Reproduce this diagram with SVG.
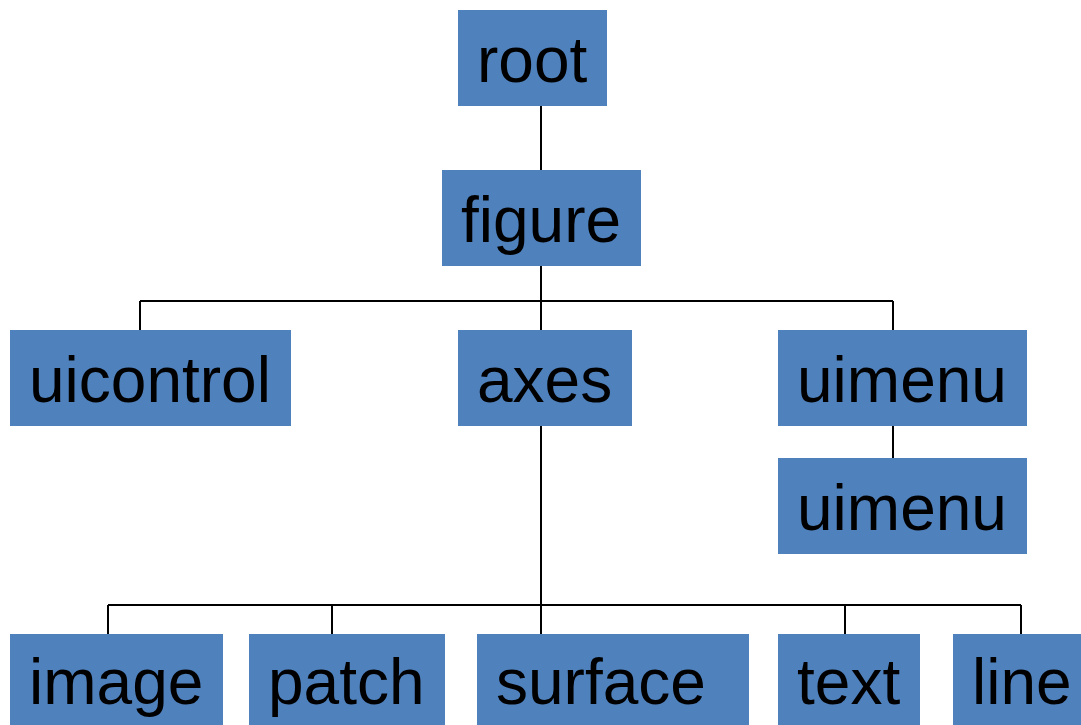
<svg xmlns="http://www.w3.org/2000/svg" width="1081" height="725" viewBox="0 0 1081 725">
<style>
.box{fill:#4F81BD;}
.lbl{font-family:"Liberation Sans",Arial,sans-serif;font-size:64px;fill:#000;}
.conn{stroke:#000;stroke-width:2;fill:none;}
</style>
<rect width="1081" height="725" fill="#fff"/>
<g id="connectors">
<path class="conn" d="M541,106V170M541,266V634M140,301H893M140,301V330M893,301V330M893,426V458M108,605H1021M108,605V634M332,605V634M845,605V634M1021,605V634"/>
</g>
<g id="root"><rect class="box" x="458" y="10" width="149" height="96"/><text class="lbl" x="477" y="82">root</text></g>
<g id="figure"><rect class="box" x="442" y="170" width="199" height="96"/><text class="lbl" x="461" y="242">figure</text></g>
<g id="uicontrol"><rect class="box" x="10" y="330" width="281" height="96"/><text class="lbl" x="29" y="402">uicontrol</text></g>
<g id="axes"><rect class="box" x="458" y="330" width="174" height="96"/><text class="lbl" x="477" y="402">axes</text></g>
<g id="uimenu1"><rect class="box" x="778" y="330" width="249" height="96"/><text class="lbl" x="797" y="402">uimenu</text></g>
<g id="uimenu2"><rect class="box" x="778" y="458" width="249" height="96"/><text class="lbl" x="797" y="530">uimenu</text></g>
<g id="image"><rect class="box" x="10" y="634" width="213" height="96"/><text class="lbl" x="29" y="704">image</text></g>
<g id="patch"><rect class="box" x="249" y="634" width="196" height="96"/><text class="lbl" x="268" y="704">patch</text></g>
<g id="surface"><rect class="box" x="477" y="634" width="272" height="96"/><text class="lbl" x="496" y="704">surface</text></g>
<g id="text"><rect class="box" x="778" y="634" width="142" height="96"/><text class="lbl" x="797" y="704">text</text></g>
<g id="line"><rect class="box" x="953" y="634" width="130" height="96"/><text class="lbl" x="972" y="704">line</text></g>
</svg>
